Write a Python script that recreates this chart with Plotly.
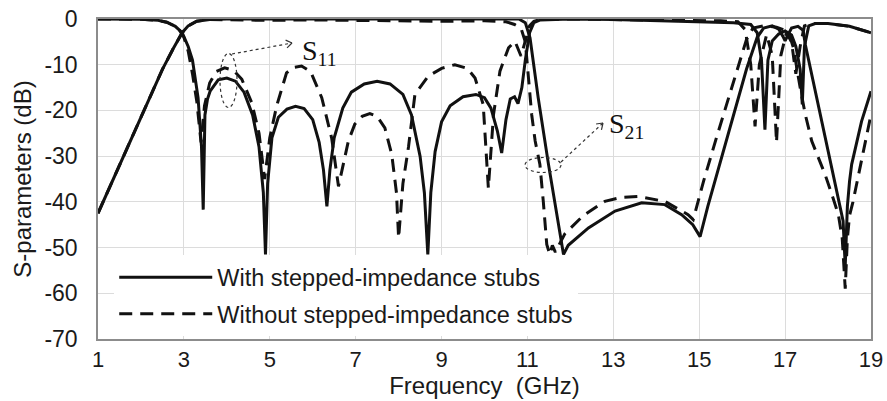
import math
import plotly.graph_objects as go

# ---------------- data ----------------
f_s21_with = [1, 1.5, 2.0, 2.5, 2.75, 2.96, 3.1, 3.3, 3.6, 4.0, 10.8, 10.95, 11.06, 11.25, 11.49,
              11.68, 11.84, 11.95, 12.42, 13.04, 13.66, 14.2, 14.59, 14.85, 15.02, 15.2, 15.5,
              15.8, 16.1, 16.35, 16.5, 16.7, 16.85, 16.95, 17.0, 17.05, 17.15, 17.3, 17.42,
              17.47, 17.7, 17.95, 18.2, 18.35, 18.4, 18.45, 18.5, 18.55, 18.78, 19.0]
db_s21_with = [-42.5, -32, -21.5, -11, -6.5, -3, -1.5, -0.5, -0.1, 0, 0, -0.8, -4.1, -17.2, -31.8,
               -42.8, -51.5, -49.5, -45.7, -42, -40.2, -40.6, -42.8, -45, -47.6, -41, -31,
               -21, -11, -4, -2, -1.5, -2.2, -3.8, -4.8, -3.8, -2, -1.6, -2.5,
               -5.6, -15.7, -26.7, -37.7, -44.2, -54, -41, -35.5, -31.8, -22.4, -15.8]

f_s21_without = [1, 1.5, 2.0, 2.5, 2.75, 2.96, 3.1, 3.3, 3.6, 4.0, 5.0, 6.0, 8.0, 9.0, 10.0, 10.5,
                 10.7, 10.85, 10.95, 11.02, 11.1, 11.18, 11.29, 11.37, 11.45, 11.52, 11.58, 11.65,
                 11.87, 12.3, 12.8, 13.2, 13.58, 14.2, 14.74, 14.86, 15.1, 15.4, 15.7, 15.95,
                 16.1, 16.25, 16.5, 16.8, 17.0, 17.1, 17.19, 17.35, 17.47, 17.62, 17.77, 17.93,
                 18.09, 18.24, 18.33, 18.4, 18.45, 18.5, 18.58, 18.86, 19.0]
db_s21_without = [-42.5, -32, -21.5, -11, -6.5, -3, -1.5, -0.5, -0.1, -0.2, -0.3, -0.2, -0.4, -0.5, -0.4, -0.6,
                  -1.2, -2, -5, -13, -21, -26.7, -31.8, -40, -49.3, -51.5, -49.5, -51,
                  -47, -43, -39.9, -39, -38.8, -39.9, -42.8, -43.9, -35.5, -26, -17, -9,
                  -4.5, -2, -1.5, -1.8, -2.5, -3.5, -6.2, -15, -20.9, -26.7, -30.3, -34,
                  -38.4, -42.8, -48, -59, -48, -43, -40, -26.7, -20.9]

f_s11_with = [1, 2.0, 2.4, 2.6, 2.8, 2.96, 3.1, 3.2, 3.33, 3.41, 3.45, 3.47, 3.49, 3.55, 3.61, 3.8,
              4.0, 4.2, 4.4, 4.6, 4.75, 4.85, 4.9, 4.95, 5.05, 5.2, 5.4, 5.6, 5.8, 6.0, 6.15,
              6.25, 6.33, 6.4, 6.5, 6.7, 6.9, 7.2, 7.5, 7.8, 8.1, 8.3, 8.5, 8.6, 8.68, 8.75,
              8.85, 9.0, 9.2, 9.5, 9.8, 10.0, 10.15, 10.3, 10.4, 10.5, 10.6, 10.7, 10.78,
              10.87, 10.95, 11.05, 11.15, 11.3, 12, 13, 14, 15, 15.8, 16.2, 16.35, 16.45,
              16.53, 16.6, 16.7, 16.85, 17.0, 17.15, 17.25, 17.35, 17.4, 17.45, 17.55, 17.7,
              18.0, 18.5, 19.0]
db_s11_with = [0, -0.05, -0.3, -0.7, -1.6, -3, -6, -9, -17.2, -28, -41.7, -28, -21, -17.5, -15.8, -13.3,
               -12.9, -13.6, -16, -21, -28, -38, -51.5, -36, -26, -21.5, -19.7, -19.1, -19.6, -22, -27,
               -33, -41, -33, -26, -19.5, -16, -14.2, -13.6, -14.2, -16.5, -21, -30, -38, -51.5, -38,
               -29, -22.5, -19, -17, -16.5, -17.2, -19.5, -24.5, -29.3, -22, -17.5, -17, -18.5,
               -15, -9, -3, -0.8, -0.2, 0, -0.1, -0.3, -0.5, -0.8, -1.2, -3, -9,
               -24.2, -9, -4.8, -3.3, -2.6, -3.5, -6, -11, -18.7, -6, -1.5, -1,
               -1, -1.6, -3]

f_s11_without = [1, 2.0, 2.4, 2.6, 2.8, 2.9, 3.0, 3.1, 3.2, 3.3, 3.4, 3.48, 3.6, 3.75, 3.95, 4.15,
                 4.35, 4.58, 4.75, 4.88, 5.0, 5.16, 5.39, 5.55, 5.74, 5.95, 6.21, 6.44, 6.6, 6.83,
                 6.98, 7.15, 7.33, 7.5, 7.68, 7.84, 7.95, 8.0, 8.1, 8.23, 8.38, 8.69, 9.0, 9.31,
                 9.6, 9.78, 9.97, 10.09, 10.21, 10.36, 10.56, 10.71, 10.85, 10.98, 11.05, 11.15,
                 11.3, 12, 14, 15.5, 15.9, 16.07, 16.2, 16.3, 16.4, 16.57, 16.7, 16.8, 16.9,
                 17.03, 17.15, 17.25, 17.35, 17.45, 17.6, 18.0, 18.5, 19.0]
db_s11_without = [0, -0.05, -0.3, -0.7, -1.6, -2.5, -4, -7, -12, -18, -27, -19, -14, -11.5, -10.7, -11.2,
                  -13.2, -18.3, -25, -35, -26, -19, -11.8, -10.6, -10.3, -11.5, -17.2, -26, -36.6, -26.7,
                  -23, -21.3, -20.7, -21.3, -23.8, -29.6, -38, -47.9, -36, -28, -16.5, -12.5, -10.8, -10,
                  -10.8, -12.9, -18.7, -37, -20.9, -11.4, -6.3, -4.9, -8.1, -4.1, -1.5, -0.5,
                  -0.1, 0, -0.2, -0.4, -0.6, -2.3, -10, -23.5, -10, -3.4, -8, -27, -8,
                  -3, -5, -12, -6, -1.5, -1, -1, -1.6, -3]

x_ticks = [1, 3, 5, 7, 9, 11, 13, 15, 17, 19]
y_ticks = [0, -10, -20, -30, -40, -50, -60, -70]
legend_names = ["With stepped-impedance stubs", "Without stepped-impedance stubs"]

# ---------------- figure ----------------
W, H = 887, 401
L, R, T, B = 98, 16, 19, 62
X0, X1, Y0, Y1 = 1, 19, -70, 0
pw, ph = W - L - R, H - T - B


def fx(px):
    return X0 + (px - L) / pw * (X1 - X0)


def fy(py):
    return Y1 - (py - T) / ph * (Y1 - Y0)


INK = "#111111"
LW = 3
DASH = "13px,8px"

fig = go.Figure()
fig.add_trace(go.Scatter(x=f_s11_with, y=db_s11_with, mode="lines", name=legend_names[0],
                         legendgroup="a", line=dict(color=INK, width=LW)))
fig.add_trace(go.Scatter(x=f_s21_with, y=db_s21_with, mode="lines", name=legend_names[0],
                         legendgroup="a", showlegend=False, line=dict(color=INK, width=LW)))
fig.add_trace(go.Scatter(x=f_s11_without, y=db_s11_without, mode="lines", name=legend_names[1],
                         legendgroup="b", line=dict(color=INK, width=LW, dash=DASH)))
fig.add_trace(go.Scatter(x=f_s21_without, y=db_s21_without, mode="lines", name=legend_names[1],
                         legendgroup="b", showlegend=False, line=dict(color=INK, width=LW, dash=DASH)))

shapes = []
dot = dict(color="#333333", width=1.2, dash="dot")


def ellipse(cx, cy, rx, ry):
    shapes.append(dict(type="circle", xref="x", yref="y", x0=fx(cx - rx), x1=fx(cx + rx),
                       y0=fy(cy - ry), y1=fy(cy + ry), line=dot, layer="above"))


def arrow(ax, ay, bx, by):
    shapes.append(dict(type="line", xref="x", yref="y", x0=fx(ax), y0=fy(ay), x1=fx(bx), y1=fy(by),
                       line=dot, layer="above"))
    ang = math.atan2(by - ay, bx - ax)
    for s in (1, -1):
        a = ang + math.pi - s * 0.6
        ex, ey = bx + 7 * math.cos(a), by + 7 * math.sin(a)
        shapes.append(dict(type="line", xref="x", yref="y", x0=fx(ex), y0=fy(ey), x1=fx(bx), y1=fy(by),
                           line=dict(color="#333333", width=1.2), layer="above"))


ellipse(228.5, 80.5, 8.5, 27)
arrow(232, 54, 292, 43)
ellipse(543, 165, 18, 7.5)
arrow(561, 162, 603, 123)

serif = "Liberation Serif, Times New Roman, serif"
annotations = [
    dict(x=fx(300), y=fy(52), xref="x", yref="y", text="S<sub>11</sub>", showarrow=False,
         xanchor="left", yanchor="middle", font=dict(family=serif, size=28, color=INK)),
    dict(x=fx(607), y=fy(125), xref="x", yref="y", text="S<sub>21</sub>", showarrow=False,
         xanchor="left", yanchor="middle", font=dict(family=serif, size=28, color=INK)),
]

sans = "Liberation Sans, Arial, sans-serif"
fig.update_layout(
    width=W, height=H,
    margin=dict(l=L, r=R, t=T, b=B, pad=0),
    paper_bgcolor="white", plot_bgcolor="white",
    font=dict(family=sans, size=23, color="#1a1a1a"),
    showlegend=True,
    legend=dict(x=0.021, y=0.008, xanchor="left", yanchor="bottom", bgcolor="white",
                borderwidth=0, font=dict(size=23.5, color="#1a1a1a"), itemwidth=93,
                traceorder="grouped", tracegroupgap=3),
    shapes=shapes,
    annotations=annotations,
    xaxis=dict(range=[X0, X1], tickvals=x_ticks, ticktext=[str(v) for v in x_ticks],
               showgrid=True, gridcolor="#dcdcdc", gridwidth=1, zeroline=False,
               showline=True, linecolor="#8c8c8c", linewidth=1.5, mirror=True, ticks="",
               ticklabelstandoff=0, automargin=False, tickfont=dict(size=22),
               title=dict(text="Frequency  (GHz)", standoff=4, font=dict(size=24))),
    yaxis=dict(range=[Y0, Y1], tickvals=y_ticks, ticktext=[str(v) for v in y_ticks],
               showgrid=True, gridcolor="#dcdcdc", gridwidth=1, zeroline=False,
               showline=True, linecolor="#8c8c8c", linewidth=1.5, mirror=True, ticks="",
               ticklabelstandoff=14, automargin=False, tickfont=dict(size=23),
               title=dict(text="S-parameters (dB)", standoff=6, font=dict(size=24))),
)

fig.write_html("out.html")
